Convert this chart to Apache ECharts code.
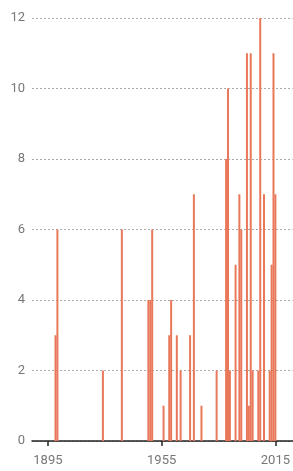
<!DOCTYPE html>
<html>
<head>
<meta charset="utf-8">
<script src="https://cdn.jsdelivr.net/npm/echarts@6/dist/echarts.min.js"></script>
<style>
  html, body { margin: 0; padding: 0; background: #fff; }
  #chart { width: 293px; height: 471px; }
</style>
</head>
<body>
<div id="chart"></div>
<script>
// years with at least one event, and the count for that year
const years  = [1899, 1900, 1924, 1934, 1948, 1949, 1950, 1956, 1959, 1960, 1963, 1965, 1970, 1972, 1976, 1984,
                1989, 1990, 1991, 1994, 1996, 1997, 2000, 2001, 2002, 2003, 2006, 2007, 2009, 2012, 2013, 2014, 2015];
const counts = [3, 6, 2, 6, 4, 4, 6, 1, 3, 4, 3, 2, 3, 7, 1, 2,
                8, 10, 2, 5, 7, 6, 11, 1, 11, 2, 2, 12, 7, 2, 5, 11, 7];
const xTicks = [1895, 1955, 2015];

const chart = echarts.init(document.getElementById("chart"));

const option = {
  animation: false,
  grid: { left: 32, right: 0, top: 18, bottom: 30 },
  xAxis: {
    type: "value",
    min: 1886.6,
    max: 2024.1,
    axisLine: { show: true, lineStyle: { color: "#222", width: 1.5 } },
    axisTick: {
      show: true,
      customValues: xTicks,
      length: 5,
      lineStyle: { color: "#222", width: 1.5 }
    },
    axisLabel: {
      customValues: xTicks,
      formatter: (v) => String(v),
      margin: 13,
      color: "#777",
      fontSize: 13,
      fontFamily: "Roboto"
    },
    splitLine: { show: false }
  },
  yAxis: {
    type: "value",
    min: 0,
    max: 12,
    interval: 2,
    axisLine: { show: false },
    axisTick: { show: false },
    axisLabel: {
      margin: 7,
      color: "#777",
      fontSize: 13,
      fontFamily: "Roboto"
    },
    splitLine: {
      show: true,
      lineStyle: { color: "#aaa", type: [2, 2], width: 1 }
    }
  },
  series: [
    {
      type: "bar",
      barWidth: 2,
      data: years.map((y, i) => [y, counts[i]]),
      itemStyle: { color: "#e9785b" }
    }
  ]
};

chart.setOption(option);
</script>
</body>
</html>
